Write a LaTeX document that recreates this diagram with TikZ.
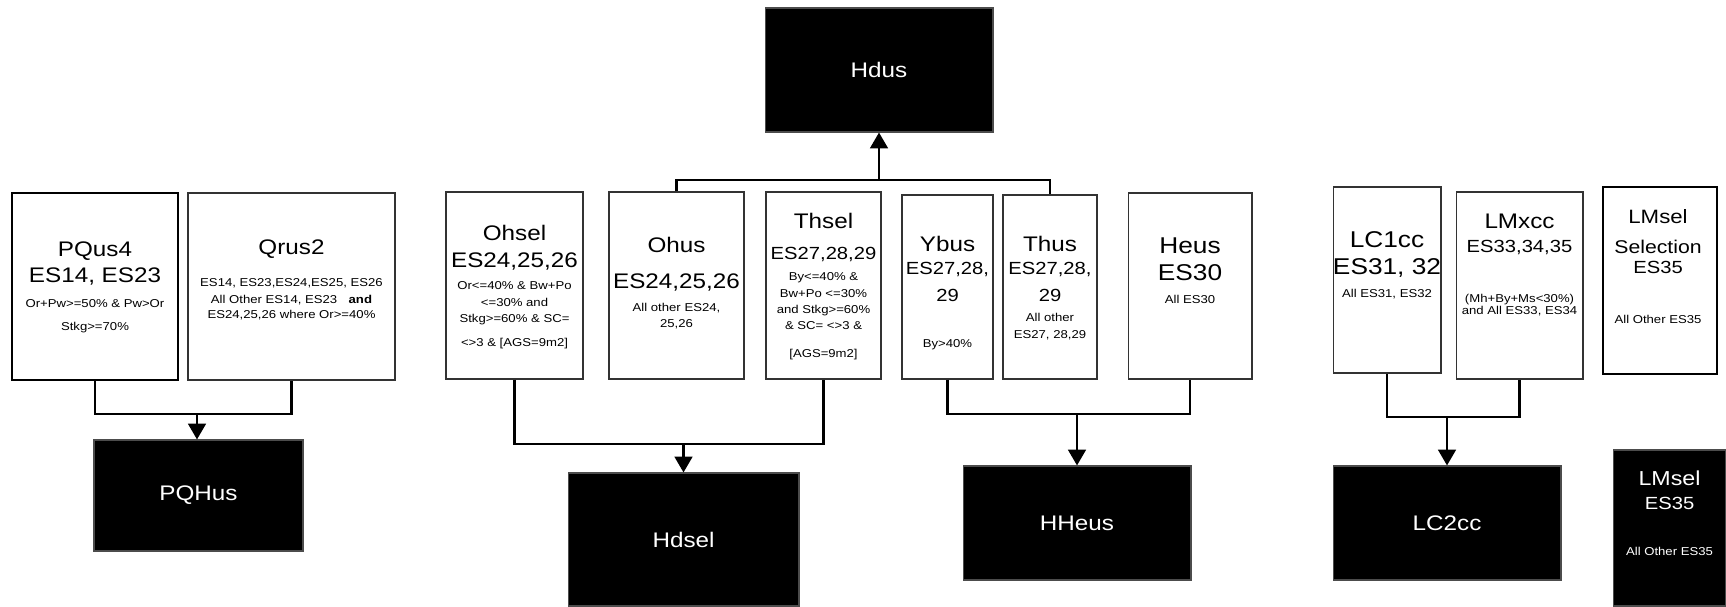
\documentclass[tikz,border=0pt]{standalone}
\usepackage{fontspec}
\setmainfont{Liberation Sans}[FakeStretch=1.15]
\usetikzlibrary{arrows.meta}

\newcommand{\bigtxt}{\fontsize{12}{12}\selectfont}
\newcommand{\midtxt}{\fontsize{10}{10}\selectfont}
\newcommand{\smalltxt}{\fontsize{6.5}{6.5}\selectfont}
\newcommand{\tightlines}{\baselineskip=0pt\lineskiplimit=-100pt\relax}

\begin{document}
\begin{tikzpicture}[x=0.02cm, y=-0.02cm,
    wbox/.style 2 args={draw=black!80, line width=0.6pt, fill=white, inner sep=0pt,
      minimum width=#1, minimum height=#2},
    thickbox/.style={line width=1.6pt, draw=black},
    bbox/.style 2 args={draw=black!70, line width=0.6pt, fill=black, text=white,
      inner sep=0pt, minimum width=#1, minimum height=#2, font=\bigtxt},
    txt/.style={align=center, anchor=north, inner sep=0pt, font=\tightlines},
    conn/.style={line width=1.6pt},
    arr/.style={conn, -{Triangle[length=9pt,width=10pt]}}]
  \useasboundingbox (0,0) rectangle (1726,607);

  % top target
  \node[bbox={4.56cm}{2.48cm}] (hdus) at (879,70) {Hdus};

  % source boxes
  \node[wbox={3.32cm}{3.74cm}, thickbox] (pqus4) at (95,286.5) {};
  \node[wbox={4.14cm}{3.74cm}] (qrus2) at (291.5,286.5) {};
  \node[wbox={2.74cm}{3.74cm}] (ohsel) at (514.5,285.5) {};
  \node[wbox={2.70cm}{3.74cm}] (ohus) at (676.5,285.5) {};
  \node[wbox={2.30cm}{3.74cm}] (thsel) at (823.5,285.5) {};
  \node[wbox={1.82cm}{3.68cm}] (ybus) at (947.5,287) {};
  \node[wbox={1.88cm}{3.68cm}] (thus) at (1050,287) {};
  \node[wbox={2.48cm}{3.72cm}] (heus) at (1190,286) {};
  \node[wbox={2.16cm}{3.72cm}] (lc1cc) at (1387,280) {};
  \node[wbox={2.54cm}{3.74cm}] (lmxcc) at (1519.5,285.5) {};
  \node[wbox={2.28cm}{3.74cm}, thickbox] (lmsel) at (1660,280.5) {};

  % texts of the source boxes
  \node[txt] (pqus4-t) at (95,241) {\bigtxt PQus4\\[14.8pt]\bigtxt ES14, ES23\\[14.2pt]
    \smalltxt Or+Pw>=50\% \& Pw>Or\\[13.1pt]\smalltxt Stkg>=70\%};
  \node[txt] (qrus2-t) at (291.5,239) {\bigtxt Qrus2\\[18.2pt]
    \smalltxt ES14, ES23,ES24,ES25, ES26\\[10.2pt]
    \smalltxt All Other ES14, ES23\quad\textbf{and}\\[8.5pt]
    \smalltxt ES24,25,26 where Or>=40\%};
  \node[txt] (ohsel-t) at (514.5,225) {\bigtxt Ohsel\\[15.4pt]\bigtxt ES24,25,26\\[12.5pt]
    \smalltxt Or<=40\% \& Bw+Po\\[9.7pt]\smalltxt <=30\% and\\[9.1pt]
    \smalltxt Stkg>=60\% \& SC=\\[13.7pt]\smalltxt <>3 \& [AGS=9m2]};
  \node[txt] (ohus-t) at (676.5,237) {\bigtxt Ohus\\[20.5pt]\bigtxt ES24,25,26\\[13.1pt]
    \smalltxt All other ES24,\\[9.1pt]\smalltxt 25,26};
  \node[txt] (thsel-t) at (823.5,213) {\bigtxt Thsel\\[17.6pt]\midtxt ES27,28,29\\[11.9pt]
    \smalltxt By<=40\% \&\\[9.7pt]\smalltxt Bw+Po <=30\%\\[9.1pt]
    \smalltxt and Stkg>=60\%\\[9.1pt]\smalltxt \& SC= <>3 \&\\[15.9pt]
    \smalltxt [AGS=9m2]};
  \node[txt] (ybus-t) at (947.5,236) {\bigtxt Ybus\\[13.1pt]\midtxt ES27,28,\\[15.4pt]
    \midtxt 29\\[26.2pt]\smalltxt By>40\%};
  \node[txt] (thus-t) at (1050,236) {\bigtxt Thus\\[13.1pt]\midtxt ES27,28,\\[15.4pt]
    \midtxt 29\\[11.4pt]\smalltxt All other\\[9.7pt]\smalltxt ES27, 28,29};
  \node[txt] (heus-t) at (1190,237) {\fontsize{13}{13}\selectfont Heus\\[15.4pt]
    \fontsize{13}{13}\selectfont ES30\\[13.1pt]\smalltxt All ES30};
  \node[txt] (lc1cc-t) at (1387,231) {\fontsize{13}{13}\selectfont LC1cc\\[15.4pt]
    \fontsize{13}{13}\selectfont ES31, 32\\[13.1pt]\smalltxt All ES31, ES32};
  \node[txt] (lmxcc-t) at (1519.5,214) {\bigtxt LMxcc\\[13.7pt]\midtxt ES33,34,35\\[28.5pt]
    \smalltxt (Mh+By+Ms<30\%)\\[6.3pt]\smalltxt and All ES33, ES34};
  \node[txt] (lmsel-t) at (1658,209) {\fontsize{11}{11}\selectfont LMsel\\[17.1pt]
    \fontsize{10.5}{10.5}\selectfont Selection\\[11.4pt]\midtxt ES35\\[28.5pt]
    \smalltxt All Other ES35};

  % lower targets
  \node[bbox={4.18cm}{2.22cm}] (pqhus) at (198.5,495.5) {PQHus};
  \node[bbox={4.62cm}{2.66cm}] (hdsel) at (683.5,539.5) {Hdsel};
  \node[bbox={4.56cm}{2.28cm}] (hheus) at (1077,523) {HHeus};
  \node[bbox={4.56cm}{2.28cm}] (lc2cc) at (1447,523) {LC2cc};
  \node[bbox={2.26cm}{3.12cm}] (lmselb) at (1669.5,528) {};
  \node[txt, text=white] (lmselb-t) at (1669.5,471) {\fontsize{11.5}{11.5}\selectfont LMsel\\[13.1pt]
    \midtxt ES35\\[26.7pt]\smalltxt All Other ES35};

  % connectors
  \coordinate (pqjoin) at (197,414);
  \coordinate (hdseljoin) at (683.5,444);
  \coordinate (hdusjoin) at (879,180);
  \coordinate (hheusjoin) at (1077,414);
  \coordinate (lc2join) at (1447,417);

  \draw[conn] (pqus4.south) |- (pqjoin) -| (qrus2.south);
  \draw[arr] (pqjoin) -- (pqjoin |- pqhus.north);
  \draw[conn] (ohsel.south) |- (hdseljoin) -| (thsel.south);
  \draw[arr] (hdseljoin) -- (hdsel.north);
  \draw[conn] (ohus.north) |- (hdusjoin) -| (thus.north);
  \draw[arr] (hdusjoin) -- (hdus.south);
  \draw[conn] (ybus.south) |- (hheusjoin) -| (heus.south);
  \draw[arr] (hheusjoin) -- (hheus.north);
  \draw[conn] (lc1cc.south) |- (lc2join) -| (lmxcc.south);
  \draw[arr] (lc2join) -- (lc2cc.north);
\end{tikzpicture}
\end{document}
